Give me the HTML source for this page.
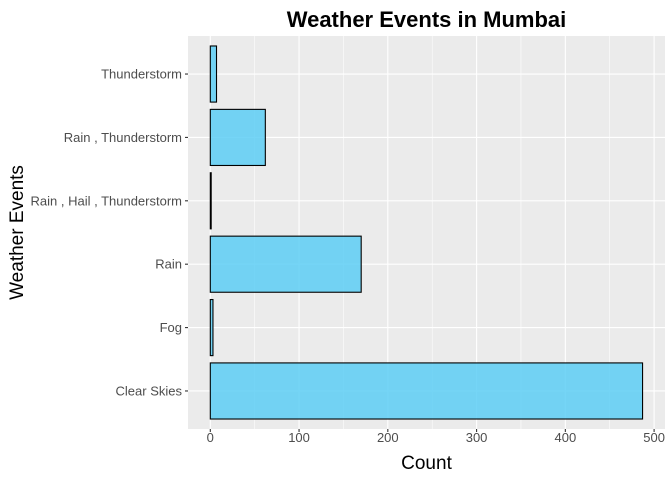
<!DOCTYPE html>
<html><head><meta charset="utf-8"><style>
body{margin:0;background:#fff;font-family:"Liberation Sans",sans-serif}
</style></head><body>
<svg id="c" width="672" height="480" font-family="Liberation Sans, sans-serif"></svg>
<script>
const categories=["Clear Skies","Fog","Rain","Rain , Hail , Thunderstorm","Rain , Thunderstorm","Thunderstorm"];
const counts=[487,3,170,1,62,7];
const xTicks=[0,100,200,300,400,500];
const svg=document.getElementById('c');
const NS='http://www.w3.org/2000/svg';
function mk(t,a,p){const e=document.createElementNS(NS,t);for(const k in a)e.setAttribute(k,a[k]);(p||svg).appendChild(e);return e;}
const L=188,R=665,T=36,B=429;
const x0=210.3,pxu=0.8876;
const X=v=>x0+v*pxu;
const step=(B-T)/(categories.length-1+1.2);
const Y=i=>B-0.6*step-i*step;
const bg=mk('rect',{x:L,y:T,width:R-L,height:B-T,fill:'#EBEBEB'});

for(let i=0;i<xTicks.length-1;i++){const v=(xTicks[i]+xTicks[i+1])/2;mk('line',{x1:X(v),x2:X(v),y1:T,y2:B,stroke:'#fff','stroke-width':0.55});}
xTicks.forEach(v=>{const g=mk('line',{x1:X(v),x2:X(v),y1:T,y2:B,stroke:'#fff','stroke-width':1.1});

mk('line',{x1:X(v),x2:X(v),y1:B,y2:B+3,stroke:'#333','stroke-width':1.1});
const t=mk('text',{x:X(v),y:B+13,'text-anchor':'middle','font-size':13,fill:'#4D4D4D'});t.textContent=v;
});
categories.forEach((c,i)=>{const y=Y(i);mk('line',{x1:L,x2:R,y1:y,y2:y,stroke:'#fff','stroke-width':1.1});
mk('line',{x1:L-3,x2:L,y1:y,y2:y,stroke:'#333','stroke-width':1.1});
const t=mk('text',{x:L-6,y:y+4.5,'text-anchor':'end','font-size':13,fill:'#4D4D4D'});t.textContent=c;
});
categories.forEach((c,i)=>{const h=step*0.885;const b=mk('rect',{x:X(0),y:Y(i)-h/2,width:Math.max(X(counts[i])-X(0),0.5),height:h,fill:'rgba(93,206,245,0.85)',stroke:'#000','stroke-width':1.1});
});
let t=mk('text',{x:(L+R)/2,y:27,'text-anchor':'middle','font-size':22,'font-weight':'bold',fill:'#000'});t.textContent='Weather Events in Mumbai';

t=mk('text',{x:(L+R)/2,y:469,'text-anchor':'middle','font-size':19,fill:'#000'});t.textContent='Count';

t=mk('text',{x:0,y:0,'text-anchor':'middle','font-size':19,fill:'#000',transform:`translate(23,${(T+B)/2}) rotate(-90)`});t.textContent='Weather Events';

</script></body></html>
